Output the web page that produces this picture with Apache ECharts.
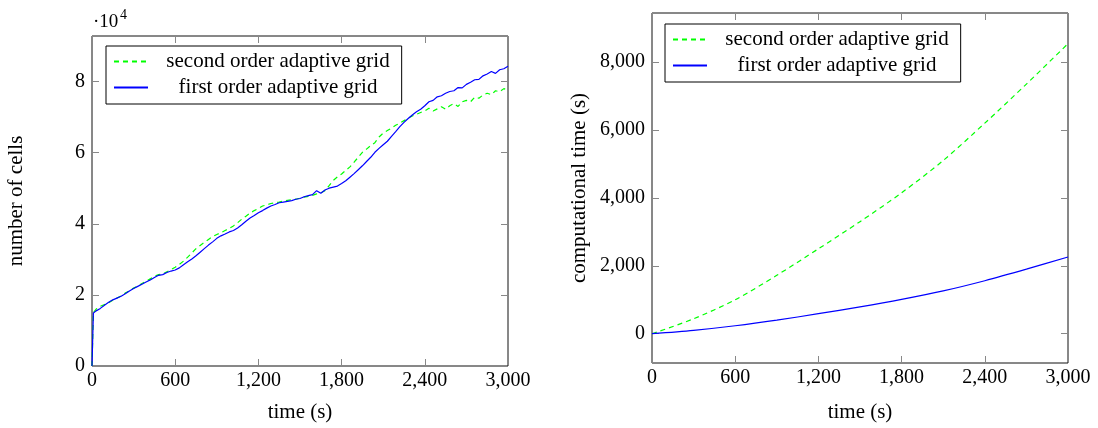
<!DOCTYPE html>
<html>
<head>
<meta charset="utf-8">
<script src="https://cdn.jsdelivr.net/npm/echarts@6/dist/echarts.min.js"></script>
<style>
  html, body { margin: 0; padding: 0; background: #fff; }
  #chart { width: 1098px; height: 428px; }
</style>
</head>
<body>
<div id="chart"></div>
<script>
// Simulation time (s) at which the cell count was sampled
const cellTimes = [
  0, 10, 30, 60, 90, 120, 150, 180, 210, 240, 270, 300, 330, 360, 390, 420, 450, 480, 510, 540, 570,
  600, 630, 660, 690, 720, 750, 780, 810, 840, 870, 900, 930, 960, 990, 1020, 1050, 1080, 1110, 1140, 1170,
  1200, 1230, 1260, 1290, 1320, 1350, 1380, 1410, 1440, 1470, 1500, 1530, 1560, 1590, 1620, 1650, 1680, 1710, 1740, 1770,
  1800, 1830, 1860, 1890, 1920, 1950, 1980, 2010, 2040, 2070, 2100, 2130, 2160, 2190, 2220, 2250, 2280, 2310, 2340, 2370,
  2400, 2430, 2460, 2490, 2520, 2550, 2580, 2610, 2640, 2670, 2700, 2730, 2760, 2790, 2820, 2850, 2880, 2910, 2940, 2970, 3000
];

// Number of cells, second order adaptive grid
const secondOrderCells = [
  0, 15000, 16000, 16800, 17300, 17800, 18500, 19100, 19700, 20500, 21200, 21900, 22500, 23200, 23800, 24500, 25200, 25700, 25900, 26500, 27100,
  27800, 28600, 29500, 30600, 31800, 33000, 33900, 34800, 35600, 36400, 37000, 37500, 38100, 38700, 39400, 40300, 41300, 42100, 43000, 43700,
  44300, 45000, 45300, 45700, 45900, 46100, 46400, 46600, 46800, 46900, 47200, 47500, 47700, 48000, 48400, 48700, 49300, 50700, 52200, 53200,
  54000, 55000, 56000, 57300, 58700, 60100, 61000, 62000, 62800, 64400, 65500, 66200, 66900, 67700, 68300, 69000, 69700, 70300, 70800, 71300,
  71700, 72500, 71700, 72300, 72900, 72200, 73200, 73800, 73000, 74300, 74700, 74300, 75600, 75300, 76200, 76700, 76300, 77400, 77100, 78000, 77600
];

// Number of cells, first order adaptive grid
const firstOrderCells = [
  0, 14900, 15500, 16200, 17100, 17900, 18600, 19100, 19600, 20300, 21100, 21800, 22400, 23000, 23600, 24200, 24900, 25500, 25700, 26300, 26700,
  27000, 27600, 28500, 29300, 30100, 31000, 32000, 33000, 34000, 34900, 35900, 36600, 37100, 37700, 38100, 38800, 39700, 40700, 41600, 42300,
  43100, 43700, 44400, 45000, 45400, 45900, 46100, 46300, 46500, 46900, 47100, 47600, 47900, 48200, 49300, 48600, 49500, 50000, 50300, 50600,
  51300, 52100, 53100, 54100, 55200, 56300, 57500, 58700, 60100, 61200, 62200, 63200, 64600, 65900, 67300, 68500, 69600, 70600, 71500, 72200,
  73200, 74300, 74700, 75700, 76000, 76700, 77200, 77400, 78300, 78200, 79200, 79800, 80500, 80600, 81600, 82100, 82800, 82300, 83300, 83600, 84300
];

// Computational time (s) against simulation time (s)
const runTimes = [0, 300, 600, 900, 1200, 1500, 1800, 2100, 2400, 2700, 3000];
const secondOrderCpu = [0, 440, 1000, 1720, 2500, 3300, 4150, 5100, 6200, 7350, 8540];
const firstOrderCpu = [0, 100, 235, 400, 590, 790, 1010, 1260, 1560, 1900, 2260];

// Axis ranges and tick spacing
const timeRange = [0, 3000, 600];
const cellRange = [0, 92800, 20000];
const cpuRange = [-862, 9443, 2000];

const seriesNames = ['second order adaptive grid', 'first order adaptive grid'];
const GREEN = '#00ff00';
const BLUE = '#0000ff';
const FONT = 'Liberation Serif';
const TICK_FONT = 20;
const TEXT_FONT = 21;

const fmtThousands = v => Number(v).toLocaleString('en-US');
const pairs = (xs, ys) => xs.map((x, i) => [x, ys[i]]);

const tickStyle = { show: true, inside: true, length: 7, lineStyle: { color: '#888', width: 1 } };

function xAxes(gridIndex, nameGap) {
  const base = {
    type: 'value', gridIndex, min: timeRange[0], max: timeRange[1], interval: timeRange[2],
    splitLine: { show: false }, axisLine: { show: false, onZero: false }, axisTick: tickStyle
  };
  return [
    Object.assign({}, base, {
      position: 'bottom',
      axisLabel: { margin: 5, color: '#000', fontFamily: FONT, fontSize: TICK_FONT, formatter: fmtThousands },
      name: 'time (s)', nameLocation: 'middle', nameGap,
      nameTextStyle: { color: '#000', fontFamily: FONT, fontSize: TEXT_FONT }
    }),
    Object.assign({}, base, { position: 'top', axisLabel: { show: false } })
  ];
}

function yAxes(gridIndex, range, fmt, name, nameGap) {
  // step fixed through min/maxInterval so ticks sit on multiples of it
  const base = {
    type: 'value', gridIndex, min: range[0], max: range[1],
    minInterval: range[2], maxInterval: range[2],
    splitLine: { show: false }, axisLine: { show: false, onZero: false }, axisTick: tickStyle
  };
  return [
    Object.assign({}, base, {
      position: 'left',
      axisLabel: {
        margin: 7, color: '#000', fontFamily: FONT, fontSize: TICK_FONT, formatter: fmt,
        showMinLabel: range[0] % range[2] === 0, showMaxLabel: false
      },
      name, nameLocation: 'middle', nameGap,
      nameTextStyle: { color: '#000', fontFamily: FONT, fontSize: TEXT_FONT }
    }),
    Object.assign({}, base, { position: 'right', axisLabel: { show: false } })
  ];
}

function legendBox(left, top) {
  return {
    left, top, orient: 'vertical',
    itemWidth: 34, itemHeight: 12, itemGap: 5,
    padding: [5, 12, 6, 7],
    borderColor: '#000', borderWidth: 1, backgroundColor: '#fff',
    selectedMode: false,
    formatter: n => '{t|' + n + '}',
    textStyle: {
      color: '#000', fontFamily: FONT, fontSize: TEXT_FONT,
      rich: { t: { width: 250, align: 'center', color: '#000', fontFamily: FONT, fontSize: TEXT_FONT } }
    },
    data: seriesNames
  };
}

// the point marker colour is transparent, so legend swatches show the line alone
function lineSeries(name, xIdx, yIdx, data, color, dashed, smooth) {
  return {
    name, type: 'line', xAxisIndex: xIdx, yAxisIndex: yIdx, data,
    symbol: 'circle', showSymbol: false, smooth: smooth ? 0.3 : false,
    lineStyle: { color, width: 1.2, type: dashed ? [5, 4] : 'solid' },
    itemStyle: { color: 'rgba(0,0,0,0)', borderWidth: 0 },
    emphasis: { disabled: true }
  };
}

const chart = echarts.init(document.getElementById('chart'), null, { renderer: 'canvas' });
chart.setOption({
  animation: false,
  backgroundColor: '#fff',
  grid: [
    { left: 92, top: 36, width: 416, height: 331, show: true, borderColor: '#111', borderWidth: 1, backgroundColor: 'transparent' },
    { left: 652, top: 13, width: 416, height: 350, show: true, borderColor: '#111', borderWidth: 1, backgroundColor: 'transparent' }
  ],
  xAxis: [].concat(xAxes(0, 36), xAxes(1, 39)),
  yAxis: [].concat(
    yAxes(0, cellRange, v => String(v / 10000), 'number of cells', 65),
    yAxes(1, cpuRange, fmtThousands, 'computational time (s)', 62)
  ),
  legend: [legendBox(106, 46), legendBox(665, 24)],
  graphic: [
    { type: 'text', left: 93, top: 13, style: { text: '·10', fill: '#000', font: '19px "Liberation Serif"' } },
    { type: 'text', left: 120, top: 8, style: { text: '4', fill: '#000', font: '14px "Liberation Serif"' } }
  ],
  series: [
    lineSeries(seriesNames[0], 0, 0, pairs(cellTimes, secondOrderCells), GREEN, true, false),
    lineSeries(seriesNames[1], 0, 0, pairs(cellTimes, firstOrderCells), BLUE, false, false),
    lineSeries(seriesNames[0], 2, 2, pairs(runTimes, secondOrderCpu), GREEN, true, true),
    lineSeries(seriesNames[1], 2, 2, pairs(runTimes, firstOrderCpu), BLUE, false, true)
  ]
});
</script>
</body>
</html>
